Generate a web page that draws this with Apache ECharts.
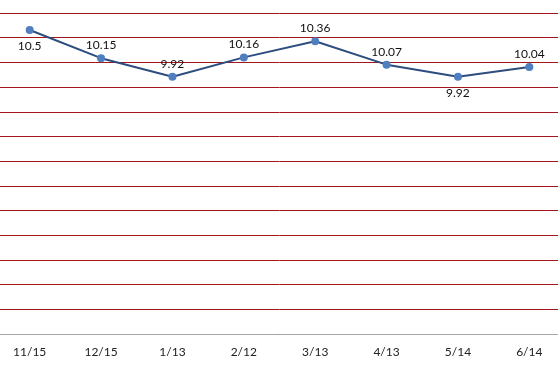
<!DOCTYPE html>
<html>
<head>
<meta charset="utf-8">
<script src="https://cdn.jsdelivr.net/npm/echarts@6/dist/echarts.min.js"></script>
<style>
html,body{margin:0;padding:0;background:#fff;overflow:hidden;width:558px;height:370px;}
#c{width:571px;height:370px;margin-left:-6px;}
</style>
</head>
<body>
<div id="c"></div>
<script>
var categories = ['11/15','12/15','1/13','2/12','3/13','4/13','5/14','6/14'];
var values = [10.5, 10.15, 9.92, 10.16, 10.36, 10.07, 9.92, 10.04];
var belowIdx = [0, 6];

var chart = echarts.init(document.getElementById('c'), null, {renderer:'canvas'});
var seriesData = values.map(function(v, i){
  var below = belowIdx.indexOf(i) >= 0;
  return {value: v, label: {position: below ? 'bottom' : 'top', distance: below ? 6 : 3}};
});
chart.setOption({
  animation: false,
  backgroundColor: '#ffffff',
  grid: {left: 0, right: 0, top: 13, bottom: 36},
  xAxis: {
    type: 'category',
    data: categories,
    boundaryGap: true,
    axisLine: {show: true, lineStyle: {color: '#a6a6a6', width: 1}},
    axisTick: {show: false},
    axisLabel: {color: '#222', fontFamily: 'Lato, "Open Sans", sans-serif', fontSize: 12, margin: 12}
  },
  yAxis: {
    type: 'value',
    min: 6.732,
    max: 10.71,
    interval: 0.306,
    axisLine: {show: false},
    axisTick: {show: false},
    axisLabel: {show: false},
    splitLine: {show: true, lineStyle: {color: '#a3161c', width: 1}}
  },
  series: [{
    type: 'line',
    data: seriesData,
    symbol: 'circle',
    symbolSize: 8,
    lineStyle: {color: '#2c4d7e', width: 2},
    itemStyle: {color: '#4f7fbf'},
    label: {show: true, color: '#111', fontFamily: 'Lato, "Open Sans", sans-serif', fontSize: 12}
  }]
});
</script>
</body>
</html>
